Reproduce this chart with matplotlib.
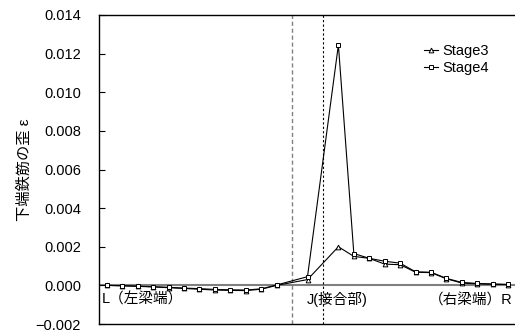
import matplotlib
matplotlib.use("Agg")
import matplotlib.pyplot as plt

plt.rcParams['font.family'] = ['Liberation Sans', 'Noto Sans CJK JP']

# measurement point indices along the beam (L -> J -> R)
positions = [0, 1, 2, 3, 4, 5, 6, 7, 8, 9, 10, 11, 13, 15, 16, 17, 18, 19, 20, 21, 22, 23, 24, 25, 26]
stage3 = [0.0, -0.00002, -0.00005, -0.00008, -0.00012, -0.00016, -0.00020, -0.00024, -0.00026, -0.00027,
          -0.00020, 0.0, 0.00030, 0.00200, 0.00150, 0.00140, 0.00110, 0.00107, 0.00068, 0.00066,
          0.00034, 0.00012, 0.00008, 0.00006, 0.00004]
stage4 = [0.0, -0.00002, -0.00004, -0.00007, -0.00010, -0.00014, -0.00017, -0.00021, -0.00023, -0.00024,
          -0.00018, 0.00002, 0.00045, 0.01245, 0.00165, 0.00140, 0.00125, 0.00115, 0.00070, 0.00068,
          0.00036, 0.00015, 0.00010, 0.00007, 0.00005]
yticks = [-0.002, 0.0, 0.002, 0.004, 0.006, 0.008, 0.010, 0.012, 0.014]
boundary_grey = 12
boundary_black = 14
labels_x = ["L（左梁端）", "J(接合部)", "（右梁端）R"]
label_pos = [-0.32, 12.95, 26.3]

W, H = 515, 334
fig = plt.figure(figsize=(W / 100, H / 100), dpi=100)
ax = fig.add_axes([99 / W, 1 - 324 / H, 417 / W, 309 / H])

ax.axhline(0, color='#808080', lw=1.5, zorder=1)
ax.axvline(boundary_grey, color='#808080', lw=1.0, ls=(0, (3, 2)), zorder=1)
ax.axvline(boundary_black, color='black', lw=0.8, ls=(0, (2, 2)), zorder=1)

ax.plot(positions, stage3, color='black', lw=0.8, marker='^', ms=3.4, mfc='white', mec='black',
        mew=0.7, label='Stage3', zorder=3)
ax.plot(positions, stage4, color='black', lw=0.8, marker='s', ms=3.2, mfc='white', mec='black',
        mew=0.7, label='Stage4', zorder=3)

ax.set_xlim(-0.5, 26.5)
ax.set_ylim(-0.002, 0.014)
ax.set_yticks(yticks)
ax.set_yticklabels([f"{v:.3f}".replace('-', '\u2212') for v in yticks], fontsize=10.5)
ax.tick_params(axis='y', direction='in', length=4, width=0.8, pad=13)
ax.set_xticks([])
ax.spines['right'].set_visible(False)
for s in ['left', 'top', 'bottom']:
    ax.spines[s].set_linewidth(1.0)

ax.set_ylabel("下端鉄筋の歪 ε", fontsize=11, labelpad=3)

ax.text(label_pos[0], -0.00075, labels_x[0], fontsize=10.5, ha='left', va='center')
ax.text(label_pos[1], -0.00075, labels_x[1], fontsize=10.5, ha='left', va='center')
ax.text(label_pos[2], -0.00075, labels_x[2], fontsize=10.5, ha='right', va='center')

ax.legend(loc='upper left', bbox_to_anchor=(0.765, 0.925), frameon=False, fontsize=10.5,
          handlelength=1.0, handletextpad=0.3, labelspacing=0.2, borderaxespad=0)

fig.savefig("out.png", dpi=100)
